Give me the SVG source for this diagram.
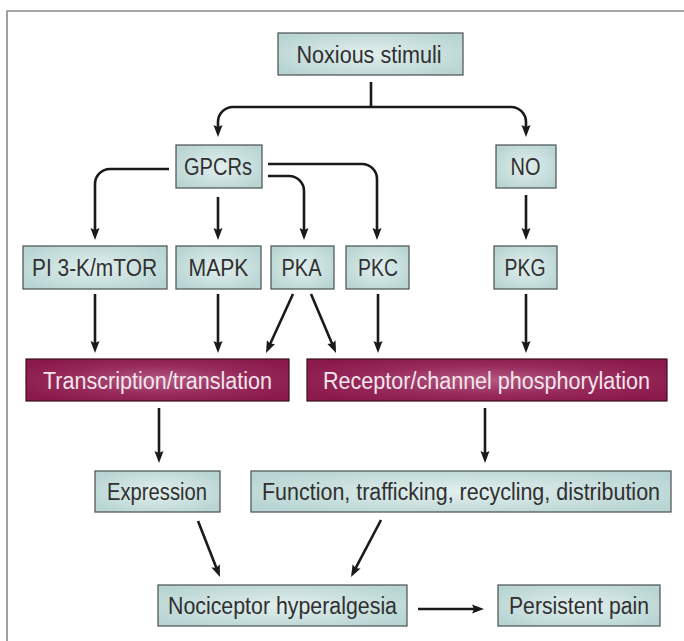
<svg xmlns="http://www.w3.org/2000/svg" width="684" height="641" viewBox="0 0 684 641">
  <style>
    .box { fill: url(#tealFill); stroke: #4a4f4f; stroke-width: 1.2; }
    .hot { fill: url(#maroonFill); stroke: #3a1020; stroke-width: 1.2; }
    .lbl { font-family: "Liberation Sans", Arial, sans-serif; font-size: 23px; fill: #303030; text-anchor: middle; }
    .lbl-light { font-family: "Liberation Sans", Arial, sans-serif; font-size: 23px; fill: #f4e6ec; text-anchor: middle; }
    .wire { fill: none; stroke: #1a1a1a; stroke-width: 2.6; }
    .arrow { fill: none; stroke: #1a1a1a; stroke-width: 2.6; marker-end: url(#head); }
    .frame { fill: none; stroke: #8a8a8a; stroke-width: 1.6; }
  </style>
  <defs>
    <radialGradient id="tealFill" cx="0.5" cy="0.5" r="0.6">
      <stop offset="0" stop-color="#e2efee"/>
      <stop offset="1" stop-color="#b8d5d3"/>
    </radialGradient>
    <radialGradient id="maroonFill" cx="0.5" cy="0.5" r="0.6">
      <stop offset="0" stop-color="#b35a82"/>
      <stop offset="0.6" stop-color="#96285a"/>
      <stop offset="1" stop-color="#8a1a4b"/>
    </radialGradient>
    <marker id="head" viewBox="0 0 12 10" refX="6" refY="5" markerWidth="12" markerHeight="10" markerUnits="userSpaceOnUse" orient="auto">
      <path d="M0,0.5 L12,5 L0,9.5 L2,5 z" fill="#1a1a1a"/>
    </marker>
  </defs>

  <rect width="684" height="641" fill="#ffffff"/>
  <g id="frame">
    <path class="frame" d="M7,641 V11 H684"/>
  </g>

  <g id="connectors">
    <path class="wire" d="M371,82 V107"/>
    <path class="arrow" d="M371,107 H233 A15,15 0 0 0 218,122 V131"/>
    <path class="arrow" d="M371,107 H511 A15,15 0 0 1 526,122 V131"/>
    <path class="arrow" d="M169,169 H110 A15,15 0 0 0 95,184 V234"/>
    <path class="arrow" d="M218,197 V234"/>
    <path class="arrow" d="M268,176 H289 A15,15 0 0 1 304,191 V234"/>
    <path class="arrow" d="M268,164 H362 A15,15 0 0 1 377,179 V234"/>
    <path class="arrow" d="M526,195 V234"/>
    <path class="arrow" d="M95,294 V347"/>
    <path class="arrow" d="M218,294 V347"/>
    <path class="arrow" d="M293,294 L268.5,347.5"/>
    <path class="arrow" d="M311,294 L333.7,347.5"/>
    <path class="arrow" d="M378,294 V347"/>
    <path class="arrow" d="M526,294 V347"/>
    <path class="arrow" d="M159,408 V457"/>
    <path class="arrow" d="M485,408 V457"/>
    <path class="arrow" d="M198,521 L217.8,571.4"/>
    <path class="arrow" d="M381,520 L353.8,571.7"/>
    <path class="arrow" d="M418,609 H478"/>
  </g>

  <g id="noxious-stimuli">
    <rect class="box" x="278" y="33" width="185" height="42"/>
    <text class="lbl" x="369" y="62.5" textLength="145" lengthAdjust="spacingAndGlyphs">Noxious stimuli</text>
  </g>
  <g id="gpcrs">
    <rect class="box" x="176" y="145" width="86" height="43"/>
    <text class="lbl" x="218" y="175" textLength="68" lengthAdjust="spacingAndGlyphs">GPCRs</text>
  </g>
  <g id="no">
    <rect class="box" x="496" y="145" width="60" height="43"/>
    <text class="lbl" x="525.5" y="175" textLength="30" lengthAdjust="spacingAndGlyphs">NO</text>
  </g>
  <g id="pi3k-mtor">
    <rect class="box" x="23" y="246" width="144" height="43"/>
    <text class="lbl" x="94.5" y="276" textLength="125" lengthAdjust="spacingAndGlyphs">PI 3-K/mTOR</text>
  </g>
  <g id="mapk">
    <rect class="box" x="176" y="246" width="85" height="43"/>
    <text class="lbl" x="218.5" y="276" textLength="60" lengthAdjust="spacingAndGlyphs">MAPK</text>
  </g>
  <g id="pka">
    <rect class="box" x="271" y="246" width="63" height="43"/>
    <text class="lbl" x="301.5" y="276" textLength="40" lengthAdjust="spacingAndGlyphs">PKA</text>
  </g>
  <g id="pkc">
    <rect class="box" x="346" y="246" width="63" height="43"/>
    <text class="lbl" x="378" y="276" textLength="40" lengthAdjust="spacingAndGlyphs">PKC</text>
  </g>
  <g id="pkg">
    <rect class="box" x="494" y="246" width="63" height="43"/>
    <text class="lbl" x="525" y="276" textLength="41" lengthAdjust="spacingAndGlyphs">PKG</text>
  </g>
  <g id="transcription-translation">
    <rect class="hot" x="26" y="359" width="263" height="42"/>
    <text class="lbl-light" x="157.5" y="388.5" textLength="229" lengthAdjust="spacingAndGlyphs">Transcription/translation</text>
  </g>
  <g id="receptor-phosphorylation">
    <rect class="hot" x="307" y="359" width="360" height="42"/>
    <text class="lbl-light" x="486.5" y="388.5" textLength="327" lengthAdjust="spacingAndGlyphs">Receptor/channel phosphorylation</text>
  </g>
  <g id="expression">
    <rect class="box" x="95" y="471" width="125" height="41"/>
    <text class="lbl" x="157" y="500" textLength="100" lengthAdjust="spacingAndGlyphs">Expression</text>
  </g>
  <g id="function">
    <rect class="box" x="251" y="471" width="420" height="41"/>
    <text class="lbl" x="461" y="500" textLength="398" lengthAdjust="spacingAndGlyphs">Function, trafficking, recycling, distribution</text>
  </g>
  <g id="nociceptor-hyperalgesia">
    <rect class="box" x="158" y="585" width="249" height="41"/>
    <text class="lbl" x="282.5" y="614" textLength="229" lengthAdjust="spacingAndGlyphs">Nociceptor hyperalgesia</text>
  </g>
  <g id="persistent-pain">
    <rect class="box" x="498" y="585" width="162" height="41"/>
    <text class="lbl" x="579" y="614" textLength="140" lengthAdjust="spacingAndGlyphs">Persistent pain</text>
  </g>
</svg>
